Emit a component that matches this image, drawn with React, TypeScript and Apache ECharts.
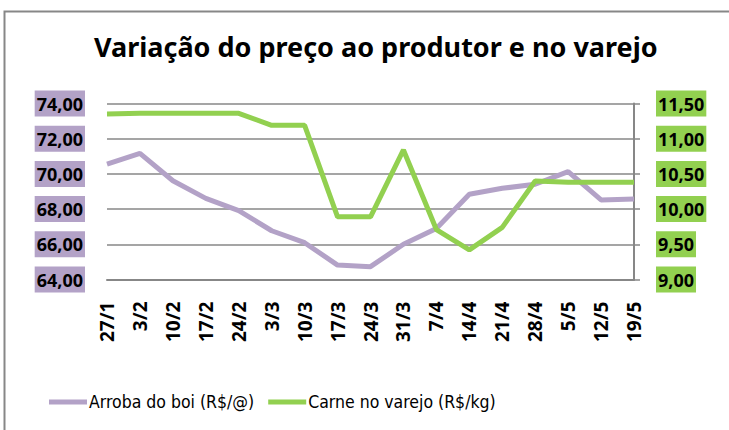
import React, { useEffect, useRef } from "react";
import * as echarts from "echarts";

const categories = ["27/1", "3/2", "10/2", "17/2", "24/2", "3/3", "10/3", "17/3", "24/3", "31/3", "7/4", "14/4", "21/4", "28/4", "5/5", "12/5", "19/5"];
const arrobaBoi = [70.56, 71.17, 69.61, 68.61, 67.91, 66.77, 66.09, 64.82, 64.73, 66.0, 66.9, 68.84, 69.18, 69.41, 70.13, 68.52, 68.57];
const carneVarejo = [11.35, 11.36, 11.36, 11.36, 11.36, 11.19, 11.19, 9.89, 9.89, 10.84, 9.71, 9.42, 9.74, 10.4, 10.38, 10.38, 10.38];
const seriesNames = ["Arroba do boi (R$/@)", "Carne no varejo (R$/kg)"];
const titleText = "Variação do preço ao produtor e no varejo";

const PURPLE = "#B3A2C7";
const GREEN = "#92D050";
const GRAY = "#878787";
const FONT = "Noto Sans";
const NARROW = "'Liberation Sans Narrow', 'DejaVu Sans Condensed', 'Noto Sans'";

const fmt = (v: number) => v.toFixed(2).replace(".", ",");

export default function App() {
  const ref = useRef<HTMLDivElement>(null);
  useEffect(() => {
    if (!ref.current) return;
    const chart = echarts.init(ref.current, undefined, { renderer: "svg" });
    chart.setOption({
      animation: false,
      backgroundColor: "#fff",
      textStyle: { fontFamily: FONT },
      graphic: [
        {
          type: "rect",
          shape: { x: 4.5, y: 11.5, width: 800, height: 500 },
          style: { fill: "none", stroke: GRAY, lineWidth: 2 },
          silent: true,
        },
      ],
      title: {
        text: titleText,
        left: 89,
        top: 28,
        textStyle: { fontFamily: FONT, fontWeight: "bold", fontSize: 27, color: "#000" },
      },
      legend: {
        left: 44,
        top: 388,
        icon: "rect",
        itemWidth: 38,
        itemHeight: 5,
        itemGap: 14,
        textStyle: { fontFamily: NARROW, fontSize: 17.5, color: "#000", padding: [0, 0, 0, -3] },
        data: seriesNames,
      },
      grid: { left: 107, right: 95, top: 103.5, bottom: 150.5, containLabel: false },
      xAxis: {
        type: "category",
        data: categories,
        boundaryGap: false,
        axisLine: { show: true, lineStyle: { color: GRAY, width: 2 } },
        axisTick: { show: false },
        axisLabel: { rotate: 90, margin: 22, fontWeight: "bold", fontSize: 19, color: "#000", fontFamily: FONT, interval: 0 },
      },
      yAxis: [
        {
          type: "value",
          min: 64,
          max: 74,
          interval: 2,
          axisLine: { show: false },
          axisTick: { show: false },
          splitLine: { show: true, lineStyle: { color: GRAY, width: 1.5 } },
          axisLabel: {
            formatter: fmt,
            fontWeight: "bold",
            fontSize: 18,
            color: "#000",
            fontFamily: FONT,
            backgroundColor: PURPLE,
            padding: [4, 2, 4, 2],
            margin: 22,
          },
        },
        {
          type: "value",
          min: 9,
          max: 11.5,
          interval: 0.5,
          position: "right",
          axisLine: { show: true, lineStyle: { color: GRAY, width: 2 } },
          axisTick: { show: true, length: 6, lineStyle: { color: GRAY, width: 1.5 } },
          splitLine: { show: false },
          axisLabel: {
            formatter: fmt,
            fontWeight: "bold",
            fontSize: 18,
            color: "#000",
            fontFamily: FONT,
            backgroundColor: GREEN,
            padding: [4, 2, 4, 2],
            margin: 22,
          },
        },
      ],
      series: [
        {
          name: seriesNames[0],
          type: "line",
          data: arrobaBoi,
          yAxisIndex: 0,
          symbol: "none",
          lineStyle: { color: PURPLE, width: 5 },
          itemStyle: { color: PURPLE },
        },
        {
          name: seriesNames[1],
          type: "line",
          data: carneVarejo,
          yAxisIndex: 1,
          symbol: "none",
          lineStyle: { color: GREEN, width: 5 },
          itemStyle: { color: GREEN },
        },
      ],
    });
    return () => chart.dispose();
  }, []);
  return <div ref={ref} style={{ position: "fixed", left: 0, top: 0, width: 729, height: 430 }} />;
}
